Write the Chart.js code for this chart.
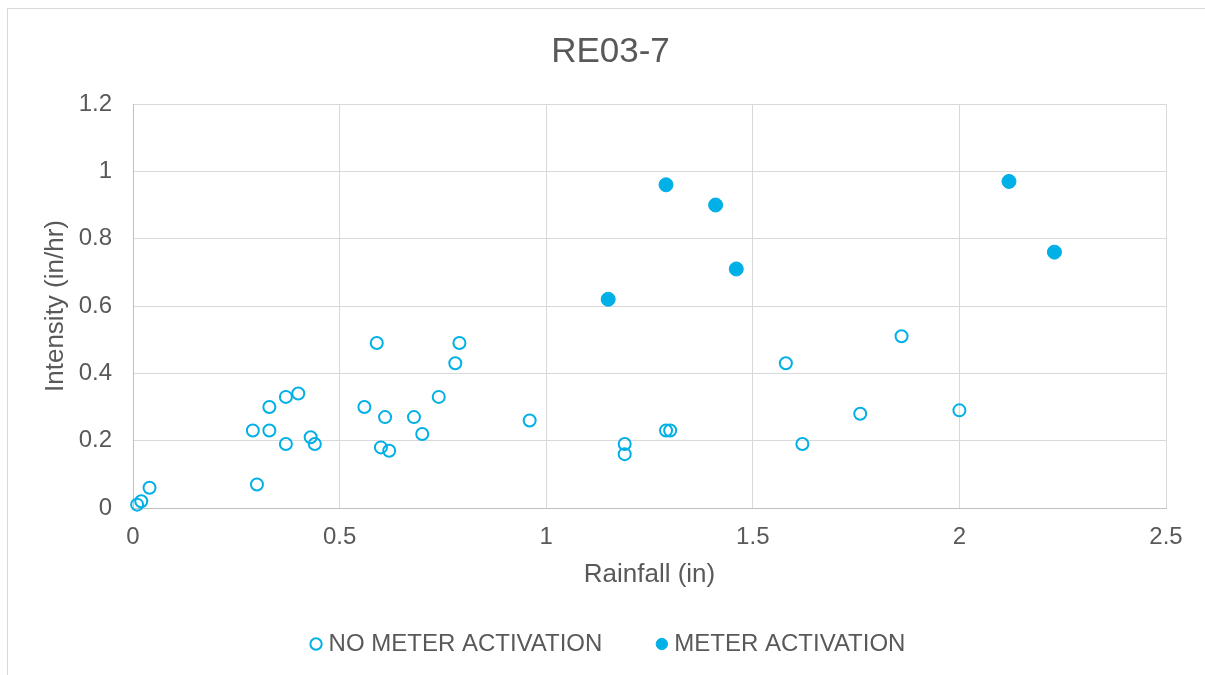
<!DOCTYPE html>
<html>
<head>
<meta charset="utf-8">
<title>RE03-7</title>
<script src="https://cdn.jsdelivr.net/npm/chart.js@4.4.1/dist/chart.umd.min.js"></script>
<style>
  html, body { margin: 0; padding: 0; background: #ffffff; }
  #wrap { width: 1205px; height: 675px; }
</style>
</head>
<body>
<div id="wrap"><canvas id="chart" width="1205" height="675"></canvas></div>
<script>
// values
const noActRainfall = [0.01, 0.02, 0.04, 0.29, 0.30, 0.33, 0.33, 0.37, 0.37, 0.40, 0.43, 0.44,
  0.56, 0.59, 0.60, 0.61, 0.62, 0.68, 0.70, 0.74, 0.78, 0.79, 0.96, 1.19, 1.19, 1.29, 1.30,
  1.58, 1.62, 1.76, 1.86, 2.00];
const noActIntensity = [0.01, 0.02, 0.06, 0.23, 0.07, 0.30, 0.23, 0.33, 0.19, 0.34, 0.21, 0.19,
  0.30, 0.49, 0.18, 0.27, 0.17, 0.27, 0.22, 0.33, 0.43, 0.49, 0.26, 0.19, 0.16, 0.23, 0.23,
  0.43, 0.19, 0.28, 0.51, 0.29];
const actRainfall = [1.15, 1.29, 1.41, 1.46, 2.12, 2.23];
const actIntensity = [0.62, 0.96, 0.90, 0.71, 0.97, 0.76];

const seriesNames = ["NO METER ACTIVATION", "METER ACTIVATION"];
const xTicks = { min: 0, max: 2.5, step: 0.5 };
const yTicks = { min: 0, max: 1.2, step: 0.2 };

const toPoints = (xs, ys) => xs.map((x, i) => ({ x: x, y: ys[i] }));
// Excel style labels: 1 not 1.0
const tickLabel = (v) => String(Number(v.toFixed(2)));

const blue = "#00B0E6";
const textColor = "#595959";
const gridColor = "#d9d9d9";
const fontFamily = "'Liberation Sans', Arial, sans-serif";

// light frame around the whole chart, like the reference
const framePlugin = {
  id: "frame",
  beforeDraw(chart) {
    const ctx = chart.ctx;
    ctx.save();
    ctx.fillStyle = "#ffffff";
    ctx.fillRect(0, 0, chart.width, chart.height);
    ctx.strokeStyle = gridColor;
    ctx.lineWidth = 1;
    ctx.strokeRect(7.5, 8.5, chart.width + 20, chart.height + 20);
    ctx.restore();
  }
};

new Chart(document.getElementById("chart").getContext("2d"), {
  type: "scatter",
  data: {
    datasets: [
      {
        label: seriesNames[0],
        data: toPoints(noActRainfall, noActIntensity),
        pointStyle: "circle",
        pointRadius: 6,
        pointHoverRadius: 6,
        pointBorderWidth: 2,
        borderColor: blue,
        backgroundColor: "rgba(0,0,0,0)",
        pointBackgroundColor: "rgba(0,0,0,0)",
        pointBorderColor: blue,
        clip: false
      },
      {
        label: seriesNames[1],
        data: toPoints(actRainfall, actIntensity),
        pointStyle: "circle",
        pointRadius: 7,
        pointHoverRadius: 7,
        pointBorderWidth: 1,
        borderColor: blue,
        backgroundColor: blue,
        pointBackgroundColor: blue,
        pointBorderColor: blue,
        clip: false
      }
    ]
  },
  options: {
    responsive: false,
    animation: false,
    layout: { padding: { left: 16, right: 0, top: 0, bottom: 9 } },
    plugins: {
      title: {
        display: true,
        text: "RE03-7",
        color: textColor,
        font: { family: fontFamily, size: 35, weight: "normal" },
        padding: { top: 31, bottom: 31 }
      },
      legend: {
        position: "bottom",
        labels: {
          usePointStyle: true,
          boxWidth: 1,
          boxHeight: 8,
          padding: 59,
          color: textColor,
          font: { family: fontFamily, size: 24 }
        }
      },
      tooltip: { enabled: false }
    },
    scales: {
      x: {
        type: "linear",
        min: xTicks.min,
        max: xTicks.max,
        afterFit: (scale) => {
          scale.height = 65;
          scale.paddingRight = 39;
        },
        ticks: {
          stepSize: xTicks.step,
          padding: 15,
          color: textColor,
          font: { family: fontFamily, size: 24 },
          callback: tickLabel
        },
        grid: { color: gridColor, lineWidth: 1, drawTicks: false },
        border: { color: "#bfbfbf", width: 1 },
        title: {
          display: true,
          text: "Rainfall (in)",
          color: textColor,
          font: { family: fontFamily, size: 26 },
          padding: { top: 0, bottom: -17 }
        }
      },
      y: {
        type: "linear",
        min: yTicks.min,
        max: yTicks.max,
        afterFit: (scale) => {
          scale.width = 117;
        },
        ticks: {
          stepSize: yTicks.step,
          padding: 21,
          color: textColor,
          font: { family: fontFamily, size: 24 },
          callback: tickLabel
        },
        grid: { color: gridColor, lineWidth: 1, drawTicks: false },
        border: { color: "#bfbfbf", width: 1 },
        title: {
          display: true,
          text: "Intensity (in/hr)",
          color: textColor,
          font: { family: fontFamily, size: 26 },
          padding: { top: 24, bottom: 0 }
        }
      }
    }
  },
  plugins: [framePlugin]
});
</script>
</body>
</html>
